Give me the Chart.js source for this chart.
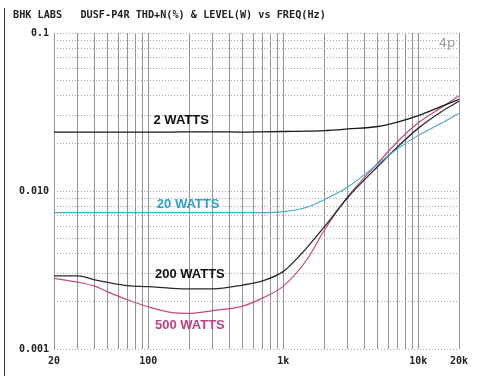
<!DOCTYPE html>
<html>
<head>
<meta charset="utf-8">
<script src="https://cdn.jsdelivr.net/npm/chart.js@4.4.1/dist/chart.umd.min.js"></script>
<style>
html,body{margin:0;padding:0;background:#fff;}
#wrap{position:relative;width:482px;height:376px;}
#edge{position:absolute;left:4px;top:8px;width:1px;height:368px;background:#333;}
</style>
</head>
<body>
<div id="wrap"><canvas id="c" width="482" height="376"></canvas><div id="edge"></div></div>
<script>
const freqs = [20,30,40,50,70,100,150,200,300,500,700,1000,1500,2000,3000,5000,7000,10000,15000,20000];
const watts2 = [0.0236,0.0236,0.0236,0.0236,0.0236,0.0236,0.0236,0.0237,0.0237,0.0236,0.0237,0.0238,0.0239,0.0241,0.0247,0.0256,0.0273,0.0300,0.0345,0.0380];
const watts20 = [0.0073,0.0073,0.0073,0.0073,0.0073,0.0073,0.0073,0.0073,0.0073,0.0073,0.0073,0.0074,0.0079,0.0088,0.0106,0.0148,0.0185,0.0225,0.0270,0.0310];
const watts200 = [0.0029,0.0029,0.00274,0.00264,0.00252,0.00248,0.00242,0.0024,0.0024,0.00254,0.0027,0.0031,0.0044,0.0059,0.0091,0.0143,0.0190,0.0250,0.0320,0.0370];
const watts500 = [0.0028,0.00265,0.0025,0.0023,0.00205,0.00185,0.0017,0.00168,0.00175,0.00187,0.0021,0.0025,0.0037,0.0056,0.0092,0.0150,0.0205,0.0270,0.0340,0.0400];

const xTicks = [20,30,40,50,60,70,80,90,100,200,300,400,500,600,700,800,900,1000,2000,3000,4000,5000,6000,7000,8000,9000,10000,20000];
const xLabels = {20:'20',100:'100',1000:'1k',10000:'10k',20000:'20k'};
const yTicks = [0.001,0.002,0.003,0.004,0.005,0.006,0.007,0.008,0.009,0.01,0.02,0.03,0.04,0.05,0.06,0.07,0.08,0.09,0.1];
const yLabels = {0.001:'0.001',0.01:'0.010',0.1:'0.1'};

const titleText = 'BHK LABS   DUSF-P4R THD+N(%) & LEVEL(W) vs FREQ(Hz)';
const notes = [
  {text:'2 WATTS', f:175, v:0.0281, color:'#111'},
  {text:'20 WATTS', f:197, v:0.00828, color:'#2f9fc6'},
  {text:'200 WATTS', f:203, v:0.00298, color:'#111'},
  {text:'500 WATTS', f:203, v:0.0014, color:'#c2407e'},
];

const mk = (arr) => freqs.map((f,i)=>({x:f,y:arr[i]}));

const annot = {
  id:'annot',
  afterDraw(chart){
    const ctx = chart.ctx, xs = chart.scales.x, ys = chart.scales.y;
    ctx.save();
    ctx.fillStyle = '#222';
    ctx.font = 'bold 10.2px "DejaVu Sans Mono"';
    ctx.textAlign = 'left'; ctx.textBaseline = 'middle';
    ctx.fillText(titleText, 13, 15);
    ctx.font = 'bold 13px "Liberation Sans", Arial';
    ctx.textAlign = 'center';
    notes.forEach(n=>{
      ctx.fillStyle = n.color;
      ctx.fillText(n.text, xs.getPixelForValue(n.f), ys.getPixelForValue(n.v));
    });
    ctx.fillStyle = '#999';
    ctx.font = '13px "DejaVu Sans"';
    ctx.fillText('4p', xs.getPixelForValue(16300), ys.getPixelForValue(0.0851));
    ctx.restore();
  }
};

const lineDs = (label, arr, color, w) => ({
  label, data: mk(arr), borderColor: color, borderWidth: w,
  pointRadius: 0, cubicInterpolationMode: 'monotone', fill:false
});

new Chart(document.getElementById('c'), {
  type:'line',
  data:{datasets:[
    lineDs('2 WATTS', watts2, '#1a1a1a', 1.3),
    lineDs('20 WATTS', watts20, '#45a9cc', 1.1),
    lineDs('200 WATTS', watts200, '#2a2a2a', 1.3),
    lineDs('500 WATTS', watts500, '#c04a82', 1.2),
  ]},
  options:{
    responsive:false, animation:false,
    layout:{padding:{left:0,right:23,top:33,bottom:0}},
    plugins:{legend:{display:false},tooltip:{enabled:false}},
    scales:{
      x:{
        type:'logarithmic', min:20, max:20000,
        afterBuildTicks(s){ s.ticks = xTicks.map(v=>({value:v})); },
        afterFit(s){ s.height = 27; },
        ticks:{autoSkip:false, maxRotation:0, padding:6,
          color:'#222', font:{family:'DejaVu Sans Mono', size:10, weight:'bold'},
          callback:(v)=> xLabels[v] || ''},
        grid:{color:'#959595', lineWidth:1, drawTicks:false},
        border:{display:false}
      },
      y:{
        type:'logarithmic', min:0.001, max:0.1,
        afterBuildTicks(s){ s.ticks = yTicks.map(v=>({value:v})); },
        afterFit(s){ s.width = 54; },
        ticks:{autoSkip:false, padding:5, color:'#222',
          font:{family:'DejaVu Sans Mono', size:10, weight:'bold'},
          callback:(v)=>{ for (const k in yLabels){ if (Math.abs(Math.log10(v)-Math.log10(+k))<1e-6) return yLabels[k]; } return ''; }},
        grid:{color:'#a8a8a8', lineWidth:1, drawTicks:false},
        border:{display:false, dash:[1,2]}
      }
    }
  },
  plugins:[annot]
});
</script>
</body>
</html>
